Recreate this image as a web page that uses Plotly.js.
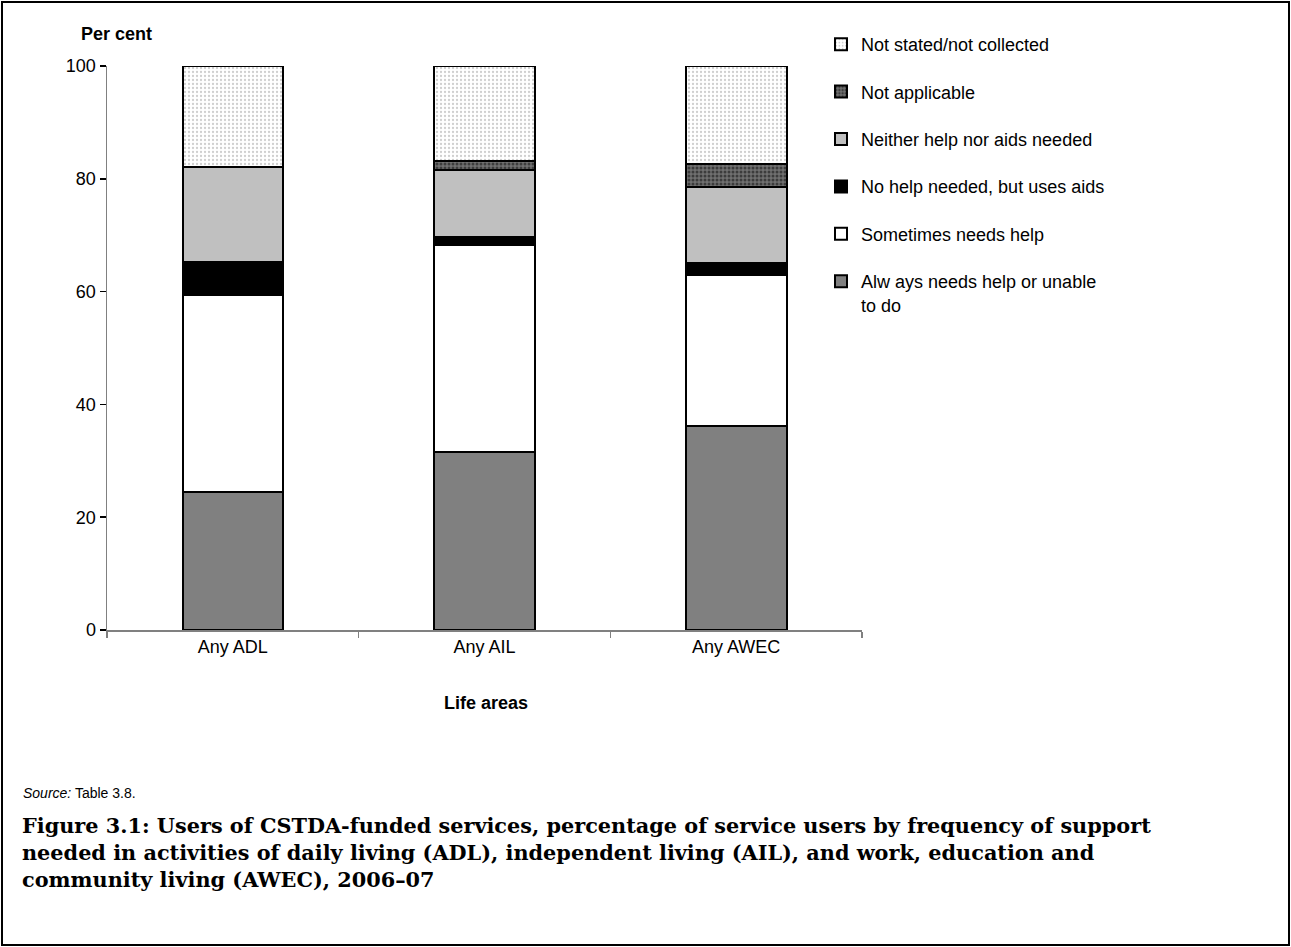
<!DOCTYPE html>
<html>
<head>
<meta charset="utf-8">
<script src="https://cdn.plot.ly/plotly-3.0.1.min.js"></script>
<style>
html,body{margin:0;padding:0;background:#fff;}
#chart{width:1291px;height:947px;}
</style>
</head>
<body>
<div id="chart"></div>
<script>
// ---- data ----
const categories = ["Any ADL", "Any AIL", "Any AWEC"];
const seriesNames = [
  "Alw ays needs help or unable<br>to do",
  "Sometimes needs help",
  "No help needed, but uses aids",
  "Neither help nor aids needed",
  "Not applicable",
  "Not stated/not collected"
];
const alwaysNeedsHelp    = [24.4, 31.5, 36.1];
const sometimesNeedsHelp = [35.0, 36.8, 26.8];
const usesAidsOnly       = [5.9, 1.3, 2.1];
const neitherNeeded      = [16.8, 12.0, 13.6];
const notApplicable      = [0.0, 1.6, 4.0];
const notStated          = [17.9, 16.8, 17.4];
const yTicks = [0, 20, 40, 60, 80, 100];

const seriesValues = [alwaysNeedsHelp, sometimesNeedsHelp, usesAidsOnly, neitherNeeded, notApplicable, notStated];

// ---- styles ----
const fills = [
  {color: "#808080"},
  {color: "#ffffff"},
  {color: "#000000"},
  {color: "#c0c0c0"},
  {color: "#6a6a6a", pattern: {shape: ".", fgcolor: "#3c3c3c", bgcolor: "#707070", size: 4, solidity: 0.45}},
  {color: "#ffffff", pattern: {shape: ".", fgcolor: "#cfcfcf", bgcolor: "#ffffff", size: 4, solidity: 0.25}}
];

const traces = seriesValues.map((vals, i) => ({
  type: "bar",
  name: seriesNames[i],
  x: categories,
  y: vals,
  width: 0.4,
  legendgroup: "g" + i,
  legendrank: seriesValues.length - i,
  marker: Object.assign({}, fills[i], {line: {color: "#000000", width: 2}}),
  hoverinfo: "skip"
}));

// plot area in pixels: x 107..862, y 66..630
const L = 107, R = 862, T = 66, B = 630;
const W = R - L, H = B - T;
const px = x => (x - L) / W;
const py = y => (B - y) / H;

const captionFont = {family: "DejaVu Serif, serif", size: 20.8, color: "#000"};

const layout = {
  width: 1291, height: 947,
  margin: {l: L, r: 1291 - R, t: T, b: 947 - B, pad: 0},
  paper_bgcolor: "#ffffff",
  plot_bgcolor: "#ffffff",
  barmode: "stack",
  font: {family: "Liberation Sans, Arial, sans-serif", size: 18, color: "#000"},
  showlegend: true,
  legend: {
    x: px(821), y: py(26), xanchor: "left", yanchor: "top",
    traceorder: "grouped",
    tracegroupgap: 21,
    valign: "top",
    font: {family: "Liberation Sans, Arial, sans-serif", size: 18, color: "#000"},
    bgcolor: "rgba(0,0,0,0)",
    itemwidth: 30
  },
  xaxis: {
    type: "category",
    showline: true, linecolor: "#808080", linewidth: 1.5,
    ticks: "outside", tickson: "boundaries", ticklen: 6, tickcolor: "#808080", tickwidth: 1.5,
    showgrid: false, zeroline: false,
    tickfont: {size: 18},
    fixedrange: true
  },
  yaxis: {
    range: [0, 100],
    tickvals: yTicks,
    ticktext: yTicks.map(String),
    showline: true, linecolor: "#808080", linewidth: 1.5,
    ticks: "outside", ticklen: 6, tickcolor: "#000", tickwidth: 1.5,
    showgrid: false, zeroline: false,
    tickfont: {size: 18},
    fixedrange: true
  },
  annotations: [
    {text: "<b>Per cent</b>", xref: "paper", yref: "paper", x: px(116), y: py(34), xanchor: "center", yanchor: "middle", showarrow: false, font: {size: 18}},
    {text: "<b>Life areas</b>", xref: "paper", yref: "paper", x: px(486), y: py(703), xanchor: "center", yanchor: "middle", showarrow: false, font: {size: 18}},
    {text: "<i>Source:</i> Table 3.8.", xref: "paper", yref: "paper", x: px(21), y: py(793), xanchor: "left", yanchor: "middle", showarrow: false, font: {size: 14}},
    {text: "<b>Figure 3.1: Users of CSTDA-funded services, percentage of service users by frequency of support</b>", xref: "paper", yref: "paper", x: px(20), y: py(825), xanchor: "left", yanchor: "middle", showarrow: false, font: captionFont},
    {text: "<b>needed in activities of daily living (ADL), independent living (AIL), and work, education and</b>", xref: "paper", yref: "paper", x: px(20), y: py(852), xanchor: "left", yanchor: "middle", showarrow: false, font: captionFont},
    {text: "<b>community living (AWEC), 2006–07</b>", xref: "paper", yref: "paper", x: px(20), y: py(879), xanchor: "left", yanchor: "middle", showarrow: false, font: captionFont}
  ],
  shapes: [
    {type: "rect", xref: "paper", yref: "paper", x0: px(2), x1: px(1289), y0: py(945), y1: py(2), line: {color: "#000", width: 2}, fillcolor: "rgba(0,0,0,0)", layer: "above"}
  ]
};

Plotly.newPlot("chart", traces, layout, {staticPlot: true, displayModeBar: false});
</script>
</body>
</html>
